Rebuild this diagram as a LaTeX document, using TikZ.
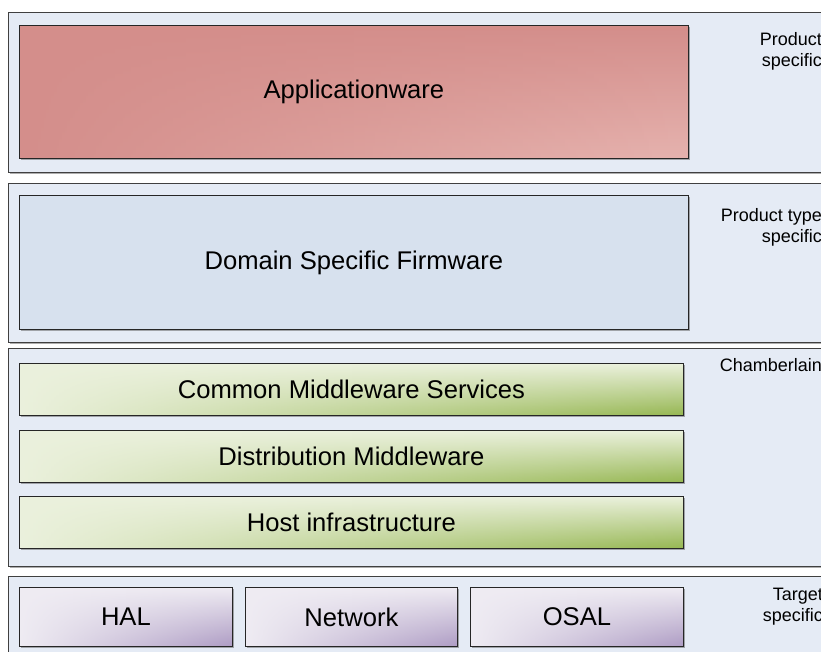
\documentclass[tikz,border=0pt]{standalone}
\usepackage{fontspec}
\setmainfont{Liberation Sans}
\usetikzlibrary{shadows,fadings}
\definecolor{panelfill}{HTML}{E5EBF5}
\definecolor{panelline}{HTML}{404040}
\definecolor{appA}{HTML}{D48E8B}
\definecolor{appB}{HTML}{E6B3AF}
\definecolor{dsf}{HTML}{D7E1EE}
\definecolor{grA}{HTML}{EBF1DD}
\definecolor{grM}{HTML}{D0DFB2}
\definecolor{grB}{HTML}{96B752}
\definecolor{puA}{HTML}{EFECF3}
\definecolor{puM}{HTML}{D9D1E4}
\definecolor{puB}{HTML}{AE9CC4}
\tikzset{
  panel/.style={draw=panelline, line width=0.9pt, fill=panelfill,
    drop shadow={shadow xshift=1.5pt, shadow yshift=-2pt, opacity=0.45, fill=black!70}},
  layerbox/.style={draw=black!85, line width=0.8pt, rectangle, inner sep=0pt, anchor=north west,
    font=\fontsize{25.6}{30}\selectfont,
    drop shadow={shadow xshift=2pt, shadow yshift=-1.5pt, opacity=0.45, fill=black!70}},
  leftwash/.style={path picture={\fill[#1, path fading=east]
      (path picture bounding box.north west) rectangle (path picture bounding box.south east);}},
  appbox/.style={layerbox, top color=appA, bottom color=appB, leftwash=appA},
  dsfbox/.style={layerbox, fill=dsf},
  greenbox/.style={layerbox, top color=grA, middle color=grM, bottom color=grB, leftwash=grA},
  purplebox/.style={layerbox, top color=puA, middle color=puM, bottom color=puB, leftwash=puA},
  sidelabel/.style={font=\fontsize{18}{21}\selectfont, align=right, inner sep=0pt, anchor=base east}
}
\begin{document}
\begin{tikzpicture}[x=1pt, y=-1pt]
\useasboundingbox (0,0) rectangle (821,651);
\clip (0,0) rectangle (821,651);
% panels
\path[panel] (8,12) rectangle (860,172);
\path[panel] (8,183) rectangle (860,342);
\path[panel] (8,348) rectangle (860,566);
\path[panel] (8,576) rectangle (860,680);
% layer boxes
\node[appbox, minimum width=669pt, minimum height=133pt] (app) at (19,25) {Applicationware};
\node[dsfbox, minimum width=669pt, minimum height=134pt] (dsfw) at (19,195) {Domain Specific Firmware};
\node[greenbox, minimum width=664pt, minimum height=52pt] (cms) at (19,363) {Common Middleware Services};
\node[greenbox, minimum width=664pt, minimum height=52pt] (dm) at (19,430) {Distribution Middleware};
\node[greenbox, minimum width=664pt, minimum height=52pt] (hi) at (19,496) {Host infrastructure};
\node[purplebox, minimum width=213pt, minimum height=59pt] (hal) at (19,587) {HAL};
\node[purplebox, minimum width=212pt, minimum height=59pt] (net) at (245,587) {Network};
\node[purplebox, minimum width=213pt, minimum height=59pt] (osal) at (470,587) {OSAL};
% side labels
\node[sidelabel] (l1) at (822,66) {Product\\specific};
\node[sidelabel] (l2) at (822,242) {Product type\\specific};
\node[sidelabel] (l3) at (822,371) {Chamberlain};
\node[sidelabel] (l4) at (823,621) {Target\\specific};
\end{tikzpicture}
\end{document}
